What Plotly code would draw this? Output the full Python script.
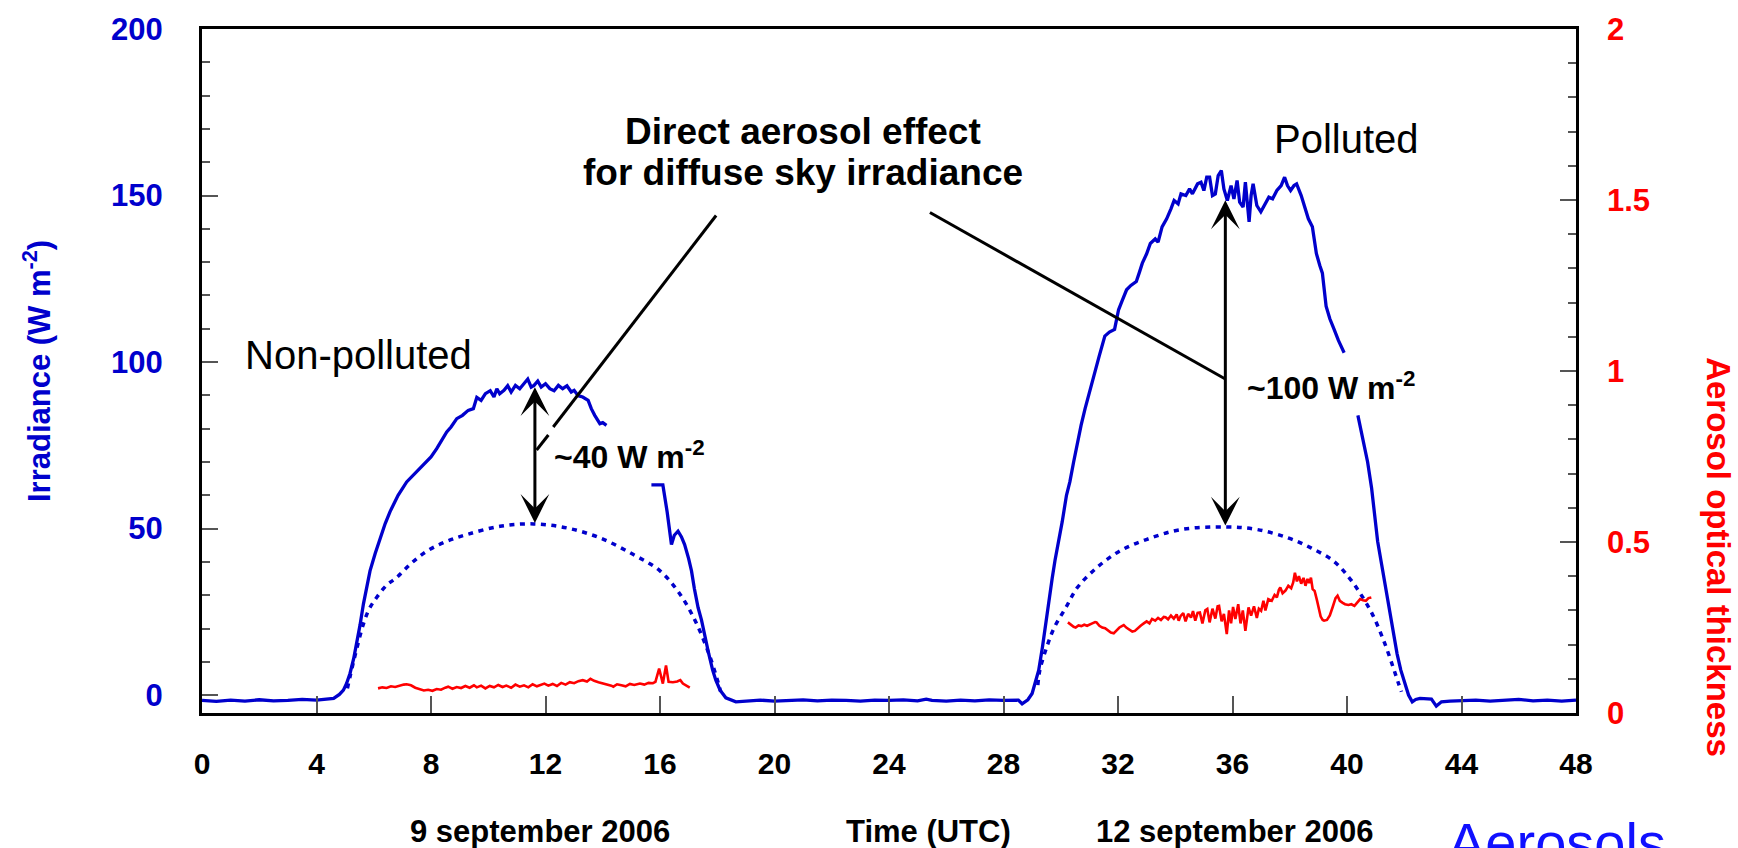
import plotly.graph_objects as go

# ---------------- data ----------------
# Measured diffuse sky irradiance (W m-2); None = hidden behind labels
blue_t = [0, 0.5, 1, 1.5, 2, 2.5, 3, 3.5, 4, 4.4, 4.6, 4.8, 4.94, 5.05, 5.17, 5.3, 5.41, 5.52, 5.64,
          5.75, 5.87, 6.05, 6.22, 6.4, 6.57, 6.85, 7.15, 7.5, 7.85, 8.0, 8.2, 8.35, 8.55, 8.7, 8.9,
          9.1, 9.3, 9.48, 9.55, 9.6, 9.75, 9.9, 10.07, 10.2, 10.3, 10.4, 10.55, 10.68, 10.8, 10.95,
          11.1, 11.25, 11.38, 11.5, 11.6, 11.73, 11.85, 12.0, 12.15, 12.3, 12.45, 12.6, 12.75, 12.9,
          13.0, 13.14, 13.3, 13.49, 13.6, 13.72, 13.8, 13.9, 14.0, 14.13, 14.9,
          15.7, 16.1, 16.25, 16.4, 16.5, 16.63, 16.75, 16.86, 17.0, 17.1, 17.2, 17.33, 17.45, 17.55,
          17.7, 17.84, 17.95, 18.1, 18.3, 18.65, 19.0, 19.5, 20, 20.5, 21, 21.5, 22, 22.5, 23, 23.5,
          24, 24.5, 25, 25.3, 25.5, 26, 26.5, 27, 27.5, 28, 28.52, 28.65, 28.85, 29.0, 29.1, 29.23,
          29.36, 29.45, 29.58, 29.7, 29.8, 29.91, 30.05, 30.2, 30.32, 30.45, 30.6, 30.71, 30.85, 31.0,
          31.19, 31.35, 31.54, 31.7, 31.88, 32.02, 32.15, 32.3, 32.45, 32.64, 32.75, 32.85, 33.0,
          33.13, 33.3, 33.4, 33.54, 33.7, 33.85, 33.96, 34.1, 34.2, 34.37, 34.5, 34.6, 34.78, 34.9,
          35.0, 35.1, 35.2, 35.3, 35.4, 35.5, 35.61, 35.7, 35.82, 35.95, 36.05, 36.16, 36.25, 36.37,
          36.45, 36.58, 36.65, 36.72, 36.85, 36.99, 37.1, 37.27, 37.4, 37.55, 37.7, 37.82, 37.92,
          38.03, 38.15, 38.24, 38.4, 38.52, 38.65, 38.79, 38.93, 39.05, 39.14, 39.27, 39.4, 39.55,
          39.7, 39.9, 40.1, 40.38, 40.59, 40.72, 40.86, 40.95, 41.07, 41.21, 41.41, 41.55, 41.75,
          41.88, 42.01, 42.15, 42.28, 42.4, 42.55, 42.75, 42.95, 43.12, 43.3, 43.6, 44, 44.5, 45,
          45.5, 46, 46.5, 47, 47.5, 48]
blue_v = [-1.6, -1.9, -1.5, -1.8, -1.4, -1.7, -1.6, -1.3, -1.5, -1.2, -1.0, 0.2, 1.5, 3.5, 6.5, 11,
          15.5, 21, 27.4, 32.5, 37.3, 42.5, 47.1, 51.5, 55.1, 60, 64, 67, 70, 71.5, 74, 76, 79, 80.5,
          83, 84, 85.5, 86, 88.5, 89.4, 88.5, 90.5, 91.4, 89.5, 92, 90.5, 91.5, 92.9, 91, 93, 92,
          93.5, 94.9, 92.5, 93, 94.3, 92.5, 93.5, 92, 91.4, 93, 92, 92.9, 91, 91.5, 89.9, 89.5, 88.5,
          86, 84, 83, 81.5, 81.8, 81, None,
          63.1, 63.1, 55, 45.2, 48, 49.2, 47.5, 45.2, 41, 37.3, 32, 26.3, 22.5, 18, 12.5, 7.5, 4.5,
          1.5, -0.8, -2, -1.7, -1.5, -1.8, -1.6, -1.4, -1.7, -1.5, -1.6, -1.8, -1.5, -1.6, -1.4,
          -1.7, -1.2, -1.6, -1.8, -1.5, -1.7, -1.4, -1.6, -1.5, -2.6, -1.4, 0.5, 3.5, 7.5, 14.4, 20,
          29.3, 35, 40.5, 45.2, 52, 60, 64.1, 70, 76.5, 81, 86, 91, 96.9, 102, 107.8, 109, 109.8,
          115.7, 118.5, 121.7, 123, 124.2, 127, 129.7, 132.5, 135.6, 137, 136, 140.6, 143, 146,
          148.5, 147.5, 150.5, 150, 152, 150.5, 153.5, 154, 151.5, 155.5, 155.5, 150, 150.5, 156,
          157.5, 152, 148.5, 153, 149, 154.5, 148, 146.5, 154, 142.1, 150, 153.5, 147, 145.1, 147,
          149.5, 149, 151.5, 153, 155.5, 153, 151.5, 153, 153.5, 150, 146.5, 143, 140.6, 132.6,
          129, 126.7, 116.8, 113, 109.8, 106.5, 102.8, None, 84, 76, 70, 62.1, 56, 46.2, 39.2,
          29.3, 21, 12.4, 7.5, 3.5, 0, -2, -1.3, -1.0, -1.2, -1.2, -3.3, -2, -1.8, -1.7, -1.5,
          -1.8, -1.6, -1.3, -1.7, -1.5, -1.8, -1.5]

# Clear-sky (non-polluted) reference irradiance, dotted
clear1_t = [5.08, 5.17, 5.35, 5.64, 5.85, 6.1, 6.45, 6.8, 7.3, 7.85, 8.5, 9.25, 10.41, 11.58,
            12.74, 13.9, 15.07, 16.0, 16.7, 17.28, 17.75, 18.04, 18.12]
clear1_v = [2, 5.5, 12, 21.4, 26, 29.3, 33, 35.3, 39.5, 43.2, 46, 48.2, 50.7, 51.4, 50.2, 47.2,
            42.2, 37.3, 30.3, 21.4, 11.4, 3.5, 1]
clear2_t = [29.2, 29.27, 29.51, 29.78, 30.18, 30.58, 31.25, 32.05, 32.99, 34.19, 35.8, 36.87,
            37.94, 38.74, 39.54, 40.07, 40.48, 40.88, 41.28, 41.61, 41.8, 41.9]
clear2_v = [3, 7.5, 14.4, 20.4, 26.3, 32.3, 38.2, 43.2, 46.7, 49.7, 50.5, 49.7, 47.2, 44.2, 40.2,
            35.3, 30.3, 24.4, 16.4, 8.4, 3.5, 1]

# Aerosol optical thickness (right axis)
aot1_t = [6.15, 6.3, 6.45, 6.6, 6.75, 6.9, 7.05, 7.15, 7.3, 7.45, 7.6, 7.75, 7.9, 8.05, 8.2, 8.35,
          8.5, 8.6, 8.75, 8.9, 9.05, 9.2, 9.35, 9.5, 9.6, 9.75, 9.9, 10.05, 10.2, 10.35, 10.5,
          10.63, 10.8, 10.95, 11.1, 11.25, 11.4, 11.55, 11.7, 11.85, 11.96, 12.1, 12.25, 12.4,
          12.55, 12.7, 12.85, 13.0, 13.15, 13.3, 13.45, 13.57, 13.7, 13.85, 14.0, 14.15, 14.3,
          14.37, 14.5, 14.65, 14.8, 14.95, 15.1, 15.3, 15.45, 15.6, 15.75, 15.84, 15.97, 16.1,
          16.21, 16.3, 16.45, 16.6, 16.71, 16.8, 16.9, 17.04]
aot1_v = [0.072, 0.075, 0.073, 0.078, 0.076, 0.080, 0.083, 0.084, 0.081, 0.074, 0.070, 0.066,
          0.068, 0.065, 0.070, 0.068, 0.074, 0.077, 0.071, 0.076, 0.073, 0.079, 0.074, 0.081,
          0.075, 0.080, 0.072, 0.079, 0.075, 0.082, 0.076, 0.080, 0.074, 0.083, 0.077, 0.081,
          0.075, 0.084, 0.078, 0.082, 0.086, 0.080, 0.085, 0.079, 0.088, 0.083, 0.090, 0.087,
          0.093, 0.096, 0.092, 0.100, 0.094, 0.090, 0.087, 0.083, 0.080, 0.077, 0.084, 0.081,
          0.078, 0.085, 0.082, 0.086, 0.083, 0.088, 0.087, 0.091, 0.130, 0.086, 0.139, 0.091,
          0.090, 0.092, 0.096, 0.086, 0.081, 0.074]
aot2_t = [30.25, 30.35, 30.45, 30.52, 30.62, 30.72, 30.82, 30.92, 30.99, 31.1, 31.2, 31.25, 31.35,
          31.45, 31.55, 31.65, 31.75, 31.85, 31.95, 32.05, 32.15, 32.2, 32.3, 32.4, 32.5, 32.59,
          32.7, 32.8, 32.9, 33.0, 33.1, 33.19, 33.3, 33.4, 33.5, 33.6, 33.66, 33.75, 33.85, 33.95,
          34.05, 34.12, 34.19, 34.28, 34.36, 34.45, 34.55, 34.62, 34.7, 34.78, 34.86, 34.95, 35.05,
          35.12, 35.2, 35.3, 35.4, 35.48, 35.53, 35.62, 35.7, 35.8, 35.88, 35.95, 36.02, 36.1,
          36.2, 36.28, 36.36, 36.45, 36.56, 36.65, 36.75, 36.85, 36.92, 37.0, 37.08, 37.15, 37.25,
          37.37, 37.47, 37.55, 37.62, 37.67, 37.75, 37.85, 37.95, 38.05, 38.12, 38.18, 38.25,
          38.32, 38.4, 38.48, 38.55, 38.62, 38.68, 38.74, 38.8, 38.87, 38.95, 39.0, 39.08, 39.15,
          39.2, 39.3, 39.4, 39.5, 39.6, 39.67, 39.75, 39.85, 39.93, 40.05, 40.15, 40.26, 40.36,
          40.46, 40.56, 40.66, 40.75, 40.85]
aot2_v = [0.265, 0.258, 0.252, 0.250, 0.256, 0.254, 0.258, 0.255, 0.257, 0.262, 0.266, 0.265,
          0.255, 0.250, 0.248, 0.240, 0.235, 0.233, 0.242, 0.250, 0.255, 0.257, 0.249, 0.244,
          0.238, 0.240, 0.250, 0.256, 0.262, 0.268, 0.262, 0.275, 0.270, 0.278, 0.272, 0.281,
          0.280, 0.274, 0.285, 0.276, 0.288, 0.270, 0.284, 0.292, 0.268, 0.290, 0.279, 0.298,
          0.270, 0.293, 0.294, 0.262, 0.300, 0.304, 0.265, 0.305, 0.276, 0.312, 0.313, 0.268,
          0.290, 0.231, 0.300, 0.262, 0.310, 0.275, 0.318, 0.262, 0.300, 0.240, 0.309, 0.285,
          0.312, 0.278, 0.305, 0.299, 0.328, 0.300, 0.333, 0.328, 0.345, 0.338, 0.360, 0.367,
          0.350, 0.358, 0.372, 0.365, 0.382, 0.410, 0.385, 0.400, 0.378, 0.395, 0.372, 0.392,
          0.380, 0.396, 0.362, 0.357, 0.330, 0.313, 0.282, 0.272, 0.270, 0.272, 0.285, 0.310,
          0.336, 0.343, 0.328, 0.322, 0.318, 0.316, 0.318, 0.313, 0.322, 0.333, 0.330, 0.328,
          0.336, 0.338]

x_ticks = [0, 4, 8, 12, 16, 20, 24, 28, 32, 36, 40, 44, 48]

# ---------------- styling ----------------
FONT = "Liberation Sans, Arial, Helvetica, sans-serif"
BLUE = "#0000CC"
RED = "#FF0000"
TICK = "#555555"

fig = go.Figure()
fig.add_trace(go.Scatter(x=blue_t, y=blue_v, mode="lines", connectgaps=False,
                         line=dict(color=BLUE, width=3.3), hoverinfo="skip"))
for t, v in [(clear1_t, clear1_v), (clear2_t, clear2_v)]:
    fig.add_trace(go.Scatter(x=t, y=v, mode="lines",
                             line=dict(color=BLUE, width=3.5, dash="5px,5.5px", shape="spline"),
                             hoverinfo="skip"))
for t, v in [(aot1_t, aot1_v), (aot2_t, aot2_v)]:
    fig.add_trace(go.Scatter(x=t, y=v, mode="lines", yaxis="y2",
                             line=dict(color=RED, width=2.6), hoverinfo="skip"))

# plot frame geometry (px): left 202, right 1576, top 24, bottom 713
W, H = 1738, 848
L, R, T, B = 202, 1576, 24, 713


def px(xp):
    return (xp - L) / (R - L)


def py(yp):
    return (B - yp) / (B - T)


def label(x, y, text, size, color="black", bold=False, xanchor="center", angle=0, xref="x",
          yref="y"):
    f = dict(family=FONT, size=size, color=color)
    if bold:
        f["weight"] = "bold"
    return dict(x=x, y=y, xref=xref, yref=yref, text=text, showarrow=False, xanchor=xanchor,
                yanchor="middle", textangle=angle, font=f)


annotations = [
    label(5.45, 102.2, "Non-polluted", 40),
    label(39.97, 166.9, "Polluted", 40),
    label(21.0, 169.3, "Direct aerosol effect", 37, bold=True),
    label(21.0, 156.8, "for diffuse sky irradiance", 37, bold=True),
    label(12.23, 72.1, "~40 W m<sup>-2</sup>", 32, bold=True, xanchor="left"),
    label(36.44, 92.7, "~100 W m<sup>-2</sup>", 32, bold=True, xanchor="left"),
]
# double arrows
for xa, ytop, ybot in [(11.63, 92.9, 51.7), (35.75, 149.0, 50.9)]:
    annotations.append(dict(x=xa, y=ybot, ax=xa, ay=ytop, xref="x", yref="y", axref="x", ayref="y",
                            text="", showarrow=True, arrowside="end+start", arrowhead=3,
                            startarrowhead=3, arrowsize=1.6, startarrowsize=1.6, arrowwidth=3,
                            arrowcolor="black", standoff=0, startstandoff=0))
# axis titles and bottom captions (paper coords)
annotations += [
    label(px(37), 0.5, "Irradiance (W m<sup>-2</sup>)", 31, color=BLUE, bold=True, angle=-90,
          xref="paper", yref="paper"),
    label(px(1719), py(556), "Aerosol optical thickness", 33, color=RED, bold=True, angle=90,
          xref="paper", yref="paper"),
    label(px(540), py(832), "9 september 2006", 31, bold=True, xref="paper", yref="paper"),
    label(px(928), py(832), "Time (UTC)", 31, bold=True, xref="paper", yref="paper"),
    label(px(1234), py(832), "12 september 2006", 31, bold=True, xref="paper", yref="paper"),
    label(px(1446), py(843), "Aerosols", 56, color="#1010FF", xanchor="left", xref="paper",
          yref="paper"),
]

# leader lines from the caption to the arrows
leaders = [((17.96, 144.0), (12.27, 80.5)), ((12.1, 78.1), (11.69, 73.6)),
           ((25.43, 144.9), (35.75, 94.9))]
shapes = [dict(type="line", xref="x", yref="y", x0=a[0], y0=a[1], x1=b[0], y1=b[1],
               line=dict(color="black", width=3)) for a, b in leaders]

fig.update_layout(
    width=W, height=H, autosize=False,
    margin=dict(l=L, r=W - R, t=T, b=H - B, pad=0),
    paper_bgcolor="white", plot_bgcolor="white", showlegend=False,
    annotations=annotations, shapes=shapes,
    xaxis=dict(range=[0, 48], tickmode="array", tickvals=x_ticks, ticks="inside", ticklen=17,
               tickwidth=1.5, tickcolor=TICK, showline=True, linewidth=3, linecolor="black",
               mirror=True, showgrid=False, zeroline=False, ticklabelstandoff=22,
               tickfont=dict(family=FONT, size=30, color="black", weight="bold")),
    yaxis=dict(range=[-5.37, 200], tickmode="linear", tick0=0, dtick=50, ticks="inside",
               ticklen=16, tickwidth=1.5, tickcolor=TICK, showline=True, linewidth=3,
               linecolor="black", mirror=True, showgrid=False, zeroline=False,
               ticklabelstandoff=30,
               minor=dict(ticks="inside", ticklen=8, tickwidth=1.5, tickcolor=TICK,
                          tickmode="linear", tick0=0, dtick=10, showgrid=False),
               tickfont=dict(family=FONT, size=31, color=BLUE, weight="bold")),
    yaxis2=dict(range=[0, 2], overlaying="y", side="right", tickmode="linear", tick0=0, dtick=0.5,
                ticks="inside", ticklen=16, tickwidth=1.5, tickcolor=TICK, showline=False,
                showgrid=False, zeroline=False, ticklabelstandoff=30,
                minor=dict(ticks="inside", ticklen=8, tickwidth=1.5, tickcolor=TICK,
                           tickmode="linear", tick0=0, dtick=0.1, showgrid=False),
                tickfont=dict(family=FONT, size=31, color=RED, weight="bold")),
)

fig.write_html("out.html")
